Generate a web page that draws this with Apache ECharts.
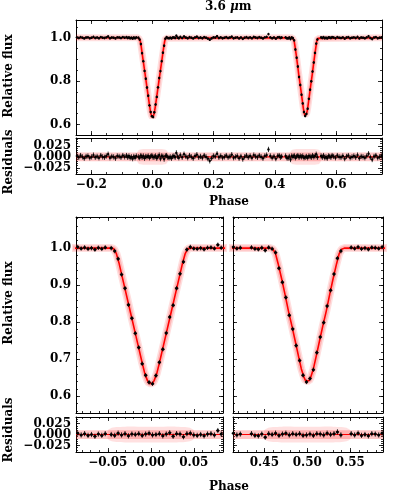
<!DOCTYPE html>
<html>
<head>
<meta charset="utf-8">
<script src="https://cdn.jsdelivr.net/npm/echarts@6/dist/echarts.min.js"></script>
<style>
  html, body { margin: 0; padding: 0; background: #fff; }
  #chart { width: 399px; height: 498px; }
</style>
</head>
<body>
<div id="chart"></div>
<script>
// phase-folded light curve
const phase = [
  -0.247, -0.241, -0.235, -0.229, -0.223, -0.217, -0.211, -0.205, -0.199, -0.193, -0.187, -0.181, -0.175, -0.169,
  -0.163, -0.157, -0.151, -0.145, -0.139, -0.133, -0.127, -0.121, -0.115, -0.109, -0.103, -0.097, -0.091,
  -0.085, -0.081, -0.077, -0.073, -0.069, -0.065, -0.061, -0.057, -0.053, -0.046,
  -0.042, -0.038, -0.034, -0.030, -0.026, -0.022, -0.018, -0.014, -0.010, -0.006, -0.002,
  0.002, 0.006, 0.010, 0.014, 0.018, 0.022, 0.026, 0.030, 0.034, 0.038, 0.042,
  0.046, 0.050, 0.054, 0.058, 0.062, 0.066, 0.070, 0.074, 0.078, 0.082, 0.086,
  0.091, 0.097, 0.103, 0.109, 0.115, 0.121, 0.127, 0.133, 0.139, 0.145, 0.151, 0.157, 0.163, 0.169,
  0.175, 0.181, 0.187, 0.193, 0.199, 0.205, 0.211, 0.217, 0.223, 0.229, 0.235, 0.241, 0.247, 0.253,
  0.259, 0.265, 0.271, 0.277, 0.283, 0.289, 0.295, 0.301, 0.307, 0.313, 0.319, 0.325, 0.331, 0.337,
  0.343, 0.349, 0.355, 0.361, 0.367, 0.373, 0.379, 0.385, 0.391, 0.397, 0.403, 0.409,
  0.414, 0.418, 0.422, 0.435, 0.439, 0.443, 0.447, 0.451, 0.455,
  0.459, 0.463, 0.467, 0.471, 0.475, 0.479, 0.483, 0.487, 0.491, 0.495, 0.499,
  0.503, 0.507, 0.511, 0.515, 0.519, 0.523, 0.527, 0.531, 0.535, 0.539,
  0.551, 0.555, 0.559, 0.563, 0.567, 0.571, 0.575, 0.579, 0.583, 0.587,
  0.592, 0.598, 0.604, 0.610, 0.616, 0.622, 0.628, 0.634, 0.640, 0.646, 0.652, 0.658, 0.664, 0.670,
  0.676, 0.682, 0.688, 0.694, 0.700, 0.706, 0.712, 0.718, 0.724, 0.730, 0.736, 0.742, 0.748
]
const flux = [
  1.002, 0.999, 1.003, 1.000, 0.997, 1.001, 1.002, 0.998, 1.000, 1.004, 0.999, 1.001, 0.998, 1.003,
  1.000, 0.999, 1.002, 1.006, 0.998, 1.001, 1.000, 0.997, 1.002, 1.001, 0.999, 1.003, 1.000,
  1.003, 0.999, 1.002, 0.998, 1.000, 0.996, 1.001, 0.998, 1.002, 1.000,
  0.992, 0.971, 0.929, 0.892, 0.847, 0.811, 0.770, 0.732, 0.688, 0.657, 0.638,
  0.634, 0.656, 0.692, 0.727, 0.771, 0.814, 0.846, 0.892, 0.931, 0.963, 0.996,
  1.003, 0.999, 0.998, 1.000, 0.997, 1.001, 1.002, 0.999, 1.009, 1.001, 0.998,
  1.004, 0.999, 1.006, 1.001, 0.998, 1.003, 1.000, 0.997, 1.002, 1.005, 0.999, 1.001, 0.998, 1.003,
  1.000, 0.996, 0.991, 0.997, 1.002, 1.001, 1.007, 0.999, 1.002, 0.998, 1.000, 1.003, 0.999, 1.001,
  1.005, 0.998, 1.000, 1.002, 0.997, 1.001, 0.995, 1.000, 1.003, 0.999, 1.002, 0.998, 1.004, 1.001,
  0.999, 1.003, 1.000, 0.997, 1.002, 1.004, 1.017, 1.002, 0.998, 1.001, 0.996, 1.002,
  1.003, 0.999, 1.001, 1.002, 0.998, 0.997, 1.001, 0.994, 1.002,
  0.998, 0.988, 0.946, 0.908, 0.867, 0.819, 0.782, 0.737, 0.697, 0.657, 0.639,
  0.648, 0.672, 0.718, 0.760, 0.799, 0.844, 0.886, 0.930, 0.973, 0.992,
  1.002, 0.999, 1.003, 0.998, 1.000, 0.997, 1.002, 1.001, 0.999, 1.003,
  1.001, 0.998, 1.003, 1.000, 0.999, 1.002, 0.996, 1.001, 1.003, 0.998, 1.000, 1.002, 0.999, 1.004,
  0.997, 1.001, 1.000, 0.998, 1.002, 1.007, 0.999, 0.994, 1.001, 1.003, 0.998, 1.000, 1.002
]
const resid = [
  0.002, -0.001, 0.003, 0.000, -0.003, 0.001, 0.002, -0.002, 0.000, 0.004, -0.001, 0.001, -0.002, 0.003,
  0.000, -0.001, 0.002, 0.006, -0.002, 0.001, 0.000, -0.003, 0.002, 0.001, -0.001, 0.003, 0.000,
  0.003, -0.001, 0.002, -0.002, 0.000, -0.004, 0.001, -0.002, 0.002, 0.000,
  -0.002, 0.003, -0.001, 0.002, -0.003, 0.001, 0.000, 0.002, -0.002, 0.001, 0.003,
  -0.001, 0.000, 0.002, -0.003, 0.001, 0.004, -0.004, 0.002, 0.001, -0.005, 0.002,
  0.003, -0.001, -0.002, 0.000, -0.003, 0.001, 0.002, -0.001, 0.009, 0.001, -0.002,
  0.004, -0.001, 0.006, 0.001, -0.002, 0.003, 0.000, -0.003, 0.002, 0.005, -0.001, 0.001, -0.002, 0.003,
  0.000, -0.004, -0.009, -0.003, 0.002, 0.001, 0.007, -0.001, 0.002, -0.002, 0.000, 0.003, -0.001, 0.001,
  0.005, -0.002, 0.000, 0.002, -0.003, 0.001, -0.005, 0.000, 0.003, -0.001, 0.002, -0.002, 0.004, 0.001,
  -0.001, 0.003, 0.000, -0.003, 0.002, 0.004, 0.017, 0.002, -0.002, 0.001, -0.004, 0.002,
  0.003, -0.001, 0.001, 0.002, -0.002, -0.003, 0.001, -0.006, 0.002,
  0.000, 0.003, -0.002, 0.001, 0.003, -0.001, 0.002, 0.000, 0.002, -0.002, -0.001,
  0.001, -0.002, 0.002, 0.001, -0.001, 0.003, 0.000, 0.002, 0.006, -0.001,
  0.002, -0.001, 0.003, -0.002, 0.000, -0.003, 0.002, 0.001, -0.001, 0.003,
  0.001, -0.002, 0.003, 0.000, -0.001, 0.002, -0.004, 0.001, 0.003, -0.002, 0.000, 0.002, -0.001, 0.004,
  -0.003, 0.001, 0.000, -0.002, 0.002, 0.007, -0.001, -0.006, 0.001, 0.003, -0.002, 0.000, 0.002
]
const fluxErr = 0.006
const phaseErr = 0.002

// best-fit eclipse model
const modelPhase = [
  -0.25, -0.046, -0.043, -0.040, -0.037, -0.034, -0.030, -0.026, -0.022, -0.018, -0.014, -0.010, -0.007, -0.004, -0.002,
  0, 0.002, 0.004, 0.007, 0.010, 0.014, 0.018, 0.022, 0.026, 0.030, 0.034, 0.037, 0.040, 0.043, 0.046,
  0.457, 0.460, 0.463, 0.466, 0.470, 0.474, 0.478, 0.482, 0.486, 0.490, 0.493, 0.496, 0.498,
  0.500, 0.502, 0.504, 0.507, 0.510, 0.514, 0.518, 0.522, 0.526, 0.530, 0.534, 0.537, 0.540, 0.543,
  0.75
]
const modelFlux = [
  1.0, 1.0, 0.998, 0.985, 0.960, 0.930, 0.890, 0.850, 0.810, 0.770, 0.730, 0.690, 0.662, 0.643, 0.635,
  0.632, 0.635, 0.643, 0.662, 0.690, 0.730, 0.770, 0.810, 0.850, 0.890, 0.930, 0.960, 0.985, 0.998, 1.0,
  1.0, 0.997, 0.985, 0.958, 0.918, 0.875, 0.830, 0.790, 0.748, 0.705, 0.674, 0.652, 0.642,
  0.638, 0.642, 0.652, 0.674, 0.705, 0.748, 0.790, 0.830, 0.875, 0.918, 0.958, 0.985, 0.997, 1.0,
  1.0
]
// residual uncertainty band: out of eclipse and around each eclipse
const resBandHalf = 0.010
const eclipseCenters = [0, 0.5]
const blobOffset = [-0.050, -0.047, -0.044, -0.040, -0.030, -0.015, 0, 0.015, 0.030, 0.040, 0.044, 0.047, 0.050]
const blobHalf = [0.010, 0.014, 0.016, 0.017, 0.018, 0.018, 0.018, 0.018, 0.018, 0.017, 0.016, 0.014, 0.010]

const FONT = 'DejaVu Serif'
const fmt = d => v => (v < -1e-9 ? '\u2212' : '') + Math.abs(v).toFixed(d)
const ticks = (a, b, step) => {
  const out = []
  for (let i = 0; ; i++) {
    const v = +(a + i * step).toFixed(6)
    if (v > b + 1e-9) break
    out.push(v)
  }
  return out
}

const panels = [
  { kind: 'flux', grid: { left: 76, top: 20, width: 306, height: 115 }, x: [-0.25, 0.75], y: [0.551, 1.082],
    xMaj: [-0.2, 0, 0.2, 0.4, 0.6], xMin: ticks(-0.25, 0.75, 0.05), xFmt: null,
    yMaj: [0.6, 0.8, 1.0], yMin: ticks(0.55, 1.05, 0.05), yFmt: fmt(1), band: [7, 4], r: 1.2 },
  { kind: 'res', grid: { left: 76, top: 138, width: 306, height: 36 }, x: [-0.25, 0.75], y: [-0.039, 0.043],
    xMaj: [-0.2, 0, 0.2, 0.4, 0.6], xMin: ticks(-0.25, 0.75, 0.05), xFmt: fmt(1),
    yMaj: [-0.025, 0, 0.025], yMin: ticks(-0.035, 0.04, 0.005), yFmt: fmt(3), r: 1.2 },
  { kind: 'flux', grid: { left: 76, top: 217, width: 147, height: 196 }, x: [-0.087, 0.084], y: [0.555, 1.084],
    xMaj: [-0.05, 0, 0.05], xMin: ticks(-0.08, 0.08, 0.01), xFmt: null,
    yMaj: [0.6, 0.7, 0.8, 0.9, 1.0], yMin: ticks(0.56, 1.08, 0.02), yFmt: fmt(1), band: [8, 5], r: 1.5 },
  { kind: 'flux', grid: { left: 233, top: 217, width: 150, height: 196 }, x: [0.4135, 0.588], y: [0.555, 1.084],
    xMaj: [0.45, 0.5, 0.55], xMin: ticks(0.42, 0.58, 0.01), xFmt: null,
    yMaj: [0.6, 0.7, 0.8, 0.9, 1.0], yMin: ticks(0.56, 1.08, 0.02), yFmt: null, band: [8, 5], r: 1.5 },
  { kind: 'res', grid: { left: 76, top: 417, width: 147, height: 35 }, x: [-0.087, 0.084], y: [-0.04, 0.04],
    xMaj: [-0.05, 0, 0.05], xMin: ticks(-0.08, 0.08, 0.01), xFmt: fmt(2),
    yMaj: [-0.025, 0, 0.025], yMin: ticks(-0.035, 0.035, 0.005), yFmt: fmt(3), r: 1.5 },
  { kind: 'res', grid: { left: 233, top: 417, width: 150, height: 35 }, x: [0.4135, 0.588], y: [-0.04, 0.04],
    xMaj: [0.45, 0.5, 0.55], xMin: ticks(0.42, 0.58, 0.01), xFmt: fmt(2),
    yMaj: [-0.025, 0, 0.025], yMin: ticks(-0.035, 0.035, 0.005), yFmt: null, r: 1.5 }
]

const mkAxis = (gi, pos, range, vals, len, labelFmt, showLine) => ({
  type: 'value', gridIndex: gi, position: pos, min: range[0], max: range[1],
  axisLine: { show: showLine, onZero: false, lineStyle: { color: '#000', width: 1 } },
  axisTick: { show: len > 0, inside: true, length: len, customValues: vals, lineStyle: { color: '#000', width: 0.8 } },
  axisLabel: labelFmt
    ? { show: true, customValues: vals, formatter: labelFmt, fontFamily: FONT, fontWeight: 'bold', fontSize: 12, color: '#000', margin: 5 }
    : { show: false },
  splitLine: { show: false }
})

const errorSeries = (ai, pts, r) => ({
  type: 'custom', xAxisIndex: ai, yAxisIndex: ai, data: pts, z: 5, silent: true,
  renderItem: (params, api) => {
    const x = api.value(0), y = api.value(1)
    const c = api.coord([x, y])
    const t = api.coord([x, y + fluxErr]), b = api.coord([x, y - fluxErr])
    const l = api.coord([x - phaseErr, y]), rt = api.coord([x + phaseErr, y])
    return {
      type: 'group', children: [
        { type: 'line', shape: { x1: c[0], y1: t[1], x2: c[0], y2: b[1] }, style: { stroke: '#000', lineWidth: 0.8 } },
        { type: 'line', shape: { x1: l[0], y1: c[1], x2: rt[0], y2: c[1] }, style: { stroke: '#000', lineWidth: 0.8 } },
        { type: 'circle', shape: { cx: c[0], cy: c[1], r: r }, style: { fill: '#000' } }
      ]
    }
  }
})

const polySeries = (ai, yi, pts, color, smooth) => ({
  type: 'custom', xAxisIndex: ai, yAxisIndex: yi, data: [[0, 0]], z: 1, silent: true,
  renderItem: (params, api) => ({
    type: 'polygon', shape: { points: pts.map(p => api.coord(p)), smooth: smooth }, style: { fill: color }
  })
})

const grids = [], xAxes = [], yAxes = [], series = []
const modelData = modelPhase.map((p, i) => [p, modelFlux[i]])

panels.forEach((p, gi) => {
  grids.push(Object.assign({ outerBoundsMode: 'none', containLabel: false }, p.grid))
  const xi = xAxes.length
  const yi = yAxes.length
  xAxes.push(mkAxis(gi, 'bottom', p.x, p.xMaj, 4, p.xFmt, true))
  xAxes.push(mkAxis(gi, 'top', p.x, p.xMaj, 4, null, true))
  xAxes.push(mkAxis(gi, 'bottom', p.x, p.xMin, 2, null, false))
  xAxes.push(mkAxis(gi, 'top', p.x, p.xMin, 2, null, false))
  yAxes.push(mkAxis(gi, 'left', p.y, p.yMaj, 4, null, true))
  yAxes.push(mkAxis(gi, 'right', p.y, p.yMaj, 4, null, true))
  yAxes.push(mkAxis(gi, 'left', p.y, p.yMin, 2, null, false))
  yAxes.push(mkAxis(gi, 'right', p.y, p.yMin, 2, null, false))
  // one label per axis so that tightly packed labels are never dropped
  if (p.yFmt) p.yMaj.forEach(v => yAxes.push(mkAxis(gi, 'left', p.y, [v], 0, p.yFmt, false)))

  const inRange = v => v >= p.x[0] - 0.001 && v <= p.x[1] + 0.001
  const vals = p.kind === 'flux' ? flux : resid
  const pts = []
  phase.forEach((ph, i) => { if (inRange(ph)) pts.push([ph, vals[i]]) })

  const line = (data, color, width, z) => ({ type: 'line', xAxisIndex: xi, yAxisIndex: yi, data: data,
    showSymbol: false, silent: true, z: z, lineStyle: { color: color, width: width } })

  if (p.kind === 'flux') {
    series.push(line(modelData, 'rgba(255,0,0,0.13)', p.band[0], 2))
    series.push(line(modelData, 'rgba(255,0,0,0.18)', p.band[1], 2))
    series.push(line(modelData, '#ff0000', 1.6, 3))
  } else {
    eclipseCenters.forEach(c => {
      if (!inRange(c)) return
      const up = blobOffset.map((o, k) => [c + o, blobHalf[k]])
      const dn = blobOffset.map((o, k) => [c + o, -blobHalf[k]]).reverse()
      series.push(polySeries(xi, yi, up.concat(dn), 'rgba(255,0,0,0.12)', 0.3))
    })
    series.push(polySeries(xi, yi, [[p.x[0], -resBandHalf], [p.x[1], -resBandHalf], [p.x[1], resBandHalf], [p.x[0], resBandHalf]],
      'rgba(255,0,0,0.22)', 0))
    series.push(line([[p.x[0], 0], [p.x[1], 0]], '#ff0000', 1.2, 3))
  }
  const es = errorSeries(xi, pts, p.r)
  es.yAxisIndex = yi
  series.push(es)
})

const nameFont = 'bold 12px "DejaVu Serif"'
const vText = (x, y, text) => ({ type: 'text', x: x, y: y, rotation: Math.PI / 2,
  style: { text: text, font: nameFont, fill: '#000', align: 'center', verticalAlign: 'middle' } })
const hText = (x, y, text) => ({ type: 'text', x: x, y: y,
  style: { text: text, font: nameFont, fill: '#000', align: 'center', verticalAlign: 'middle' } })

const chart = echarts.init(document.getElementById('chart'), null, { renderer: 'canvas' })
chart.setOption({
  animation: false,
  backgroundColor: '#fff',
  title: {
    text: '{a|3.6 }{b|\u03bc}{a|m}', left: 205, top: 1, padding: 0,
    textStyle: { rich: {
      a: { fontFamily: FONT, fontWeight: 'bold', fontSize: 12, color: '#000' },
      b: { fontFamily: FONT, fontStyle: 'italic', fontSize: 12, color: '#000' }
    } }
  },
  grid: grids,
  xAxis: xAxes,
  yAxis: yAxes,
  series: series,
  graphic: [
    vText(9, 76, 'Relative flux'),
    vText(9, 162, 'Residuals'),
    vText(9, 303, 'Relative flux'),
    vText(9, 430, 'Residuals'),
    hText(229, 202, 'Phase'),
    hText(229, 487, 'Phase')
  ]
})
</script>
</body>
</html>
